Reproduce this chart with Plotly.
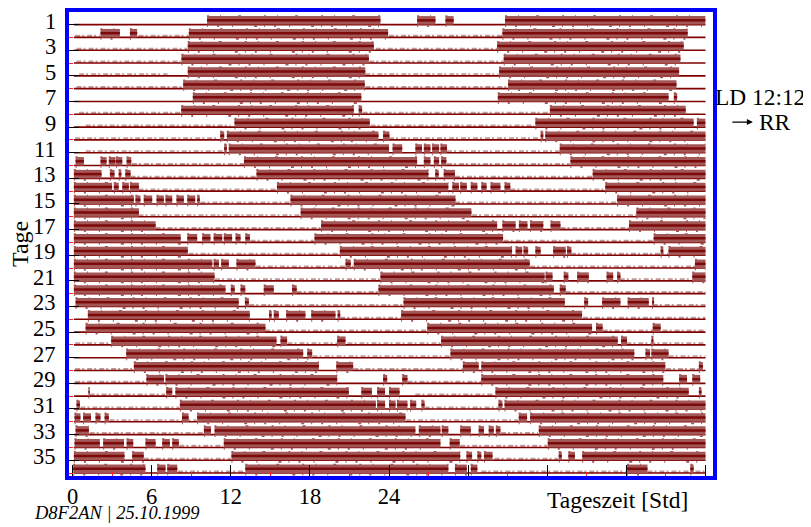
import plotly.graph_objects as go

days = list(range(1, 37))
bouts_by_day = [
 [(10.2,23.35),(26.13,27.52),(28.28,28.9),(32.8,47.99)],
 [(2.12,3.59),(4.35,4.9),(8.82,23.93),(32.6,46.65)],
 [(8.74,22.85),(32.2,46.35)],
 [(8.26,22.47),(32.7,46.1)],
 [(8.74,22.2),(32.35,46.0)],
 [(8.39,22.16),(33.03,45.8)],
 [(9.12,21.9),(32.25,45.2),(45.6,45.85)],
 [(8.24,21.33),(21.7,21.96),(36.2,46.5)],
 [(12.28,22.54),(35.1,47.1),(47.35,47.99)],
 [(11.2,11.5),(11.7,23.2),(23.55,24.03),(35.5,35.7),(35.85,48)],
 [(11.5,11.7),(11.85,24),(24.27,25.0),(26,26.5),(26.64,27.14),(27.27,27.8),(27.9,28.4),(36.95,48)],
 [(0.23,0.86),(2.12,2.58),(2.75,3.26),(3.3,3.77),(4.1,4.45),(13.0,26.13),(26.64,27.14),(27.4,27.8),(27.95,28.35),(37.76,48)],
 [(0.1,2.2),(2.83,3.18),(3.5,3.7),(4.0,4.4),(13.95,26.99),(27.5,27.77),(28.15,29.0),(39.45,48)],
 [(0.1,3.0),(3.13,3.5),(3.77,4.27),(4.35,5.03),(15.5,28.5),(28.8,29.3),(29.4,29.9),(30.2,30.7),(31,31.4),(31.7,32.45),(32.76,33.2),(40.4,48)],
 [(0.1,4.65),(4.77,5.15),(5.4,6.04),(6.37,6.92),(7.05,7.56),(7.88,8.44),(8.7,9.3),(9.45,9.65),(16.53,29.04),(41.3,48)],
 [(0.1,5.03),(17.3,30.25),(42.76,48)],
 [(0.1,6.3),(18.85,32.2),(32.6,33.6),(33.85,34.5),(34.7,35.7),(36.25,37),(42.2,48)],
 [(0.1,8.2),(8.7,9.45),(9.83,10.46),(10.7,11.35),(11.47,12.1),(12.36,12.74),(13.1,13.45),(18.35,32.65),(44.07,48)],
 [(0.1,8.74),(20.27,33.33),(33.6,34.1),(34.2,34.55),(35.1,35.5),(36.45,37.4),(37.5,37.83),(44.6,44.8),(45.2,48)],
 [(0.1,10.6),(10.7,11.1),(11.27,11.85),(12.43,13.87),(20.7,21.1),(21.33,34.67),(47.2,48)],
 [(0.1,10.77),(23.35,35.8),(35.87,36.4),(37.25,37.6),(38.27,39.15),(40.5,41),(41.3,41.55),(47,48)],
 [(0.1,11.6),(12,12.3),(12.74,13.1),(14.5,15.26),(16.65,17),(23.2,36.5),(36.95,37.4)],
 [(0.23,12.6),(13.07,13.37),(25.1,37.33),(38.8,39.1),(40.16,41.55),(42.1,43.7),(43.95,44.1)],
 [(1.16,13.44),(14.9,15.1),(15.26,15.64),(16.2,17.66),(18.1,19.94),(20.1,20.3),(24.92,38.64)],
 [(0.99,14.63),(26.9,39.4),(39.7,40.2),(44.0,44.6)],
 [(2.93,15.47),(15.77,16.27),(20.07,20.7),(27.95,41.35),(41.6,42.05),(43.9,44.05)],
 [(4.07,17.49),(17.8,18.17),(28.66,42.6),(43.45,43.8),(43.9,45.2)],
 [(4.65,18.68),(20,21.28),(29.6,30.8),(31,44.95),(47.5,47.8)],
 [(5.6,6.93),(7.05,20.07),(23.55,23.86),(25,25.4),(31,44.8),(46,46.6),(47,47.6)],
 [(1.2,1.3),(7.1,7.56),(7.8,20.95),(21.9,22.7),(23.1,23.7),(24,24.8),(32.07,46.73),(47.5,47.7)],
 [(0.3,0.56),(8.14,23),(23.1,23.7),(24,24.5),(24.6,25.4),(25.6,26.06),(26.46,26.7),(32.3,32.6),(32.76,48)],
 [(0.15,0.6),(0.8,1.4),(1.74,2.12),(2.43,2.75),(8.3,8.8),(9.45,25.25),(33.84,34.47),(34.7,48)],
 [(0.23,1.24),(9.96,10.5),(10.77,26),(26.26,27.9),(28,28.5),(29.4,30.2),(30.8,31.2),(31.56,31.95),(32.1,32.45),(35.36,48)],
 [(0.15,2.07),(2.32,3.9),(4.1,4.6),(5.53,6.3),(6.8,7.38),(7.56,8.06),(11.47,27.9),(28.6,29.36),(36.04,48)],
 [(0.1,3.94),(4.52,5.4),(12.05,29.4),(29.87,30.3),(30.7,31),(31.2,31.85),(36.87,37.1),(37.6,38.1),(38.65,48)],
 [(0.05,5.53),(6.42,7.05),(7.18,7.94),(13.1,28.5),(29,29.9),(30.2,30.7),(42.05,43.6),(46.85,47.1)],
]
low_activity_by_day = [
 [],
 [(0.2,2.1),(5,8.8),(24,32.6)],
 [(0.3,8.7),(23,32.2)],
 [(0.3,8.2),(22.5,32.7)],
 [(0.5,7.2),(22.2,32.3)],
 [(0.3,8.4),(22.2,33)],
 [],
 [(0.5,8.2),(22,36.2)],
 [(1,12),(22.6,35)],
 [(0.2,11),(24,35.4)],
 [(1,11.5),(28.4,37)],
 [(4.5,13),(28.4,37.7)],
 [(4.4,13.9),(29,39.4)],
 [(5,15.5),(33.2,40.4)],
 [(9.7,16.5),(29,41.3)],
 [(5,17.3),(30.3,42.8)],
 [(6.3,18.8),(37,42.2)],
 [(13.5,18.3),(32.7,44)],
 [(8.8,20.2),(37.8,45.2)],
 [(13.9,21.3),(34.7,47.2)],
 [(10.8,23.3),(41.5,47)],
 [(17,23.2),(37.4,48)],
 [(13.4,25),(44,48)],
 [(20.3,24.9),(38.7,48)],
 [(14.6,26.9),(40.2,48)],
 [(0.2,2.9),(16.3,27.9),(42,48)],
 [(18.2,28.6),(45.2,48)],
 [(0.2,4.6),(21.3,29.6),(45,47.5)],
 [(0.2,5.6),(25.4,31)],
 [(1.3,7),(26,32)],
 [(0.6,8.1),(26.7,32.3)],
 [(2.8,9.4),(25.3,33.8)],
 [(1.3,9.9),(32.5,35.3)],
 [(8.1,11.4),(29.4,36)],
 [(5.4,12),(32,36.8)],
 [(8,13),(31,42),(43.6,48)],
]
major_day_ticks = list(range(1, 36, 2))
minor_day_ticks = list(range(2, 37, 2))
hour_ticks = [0, 6, 12, 18, 24, 30, 36, 42, 48]
hour_labels = ["0", "6", "12", "18", "24", "", "", "", ""]
minor_hour_ticks = [3, 9, 15, 21, 27, 33, 39, 45]

def spans(per_day, rise):
    xs, ys = [], []
    for d, items in zip(days, per_day):
        for a, b in items:
            xs += [a, b, None]
            ys += [d - rise, d - rise, None]
    return xs, ys

BAR_RISE = 0.33
bx, by = spans(bouts_by_day, BAR_RISE)
tx, ty = spans(bouts_by_day, BAR_RISE + 0.33)
ux, uy = spans(bouts_by_day, -0.12)
lx, ly = spans(low_activity_by_day, 0.1)
base_x, base_y = [], []
for d in days:
    base_x += [0.1, 48, None]
    base_y += [d, d, None]

BAND = "#a35656"
fig = go.Figure()
def add(x, y, color, width, dash="solid"):
    fig.add_trace(go.Scatter(x=x, y=y, mode="lines", line=dict(color=color, width=width, dash=dash), hoverinfo="skip"))
add(lx, ly, "#c49a9a", 2.6, "5px,2px,2px,3px")
add(base_x, base_y, "#800000", 1.6)
add(tx, ty, BAND, 1.6, "2px,11px,1px,17px,3px,23px")
add(ux, uy, BAND, 1.8, "1px,9px,2px,13px,1px,21px,3px,7px")
add(bx, by, BAND, 8.5)
add(bx, by, "#7d0a0a", 2.5)

FONT = "Liberation Serif"
TICK_SIZE = 22.5
fig.update_layout(
    width=803, height=515, autosize=False, showlegend=False,
    margin=dict(l=60.5, r=98.3, t=0, b=47),
    paper_bgcolor="white", plot_bgcolor="white",
    font=dict(family=FONT, color="black", size=TICK_SIZE),
    xaxis=dict(range=[-0.27, 48.57], showgrid=False, zeroline=False, showline=True, mirror=True,
               linecolor="#0000ff", linewidth=4, tickmode="array", tickvals=hour_ticks, ticktext=hour_labels,
               ticks="inside", ticklen=11, tickcolor="black", tickwidth=1.2,
               minor=dict(tickmode="array", tickvals=minor_hour_ticks, ticks="inside", ticklen=4, tickcolor="#ff2020", tickwidth=1),
               tickfont=dict(family=FONT, size=TICK_SIZE), tickangle=0, ticklabelstandoff=-3),
    yaxis=dict(range=[36.23, 0.017], showgrid=False, zeroline=False, showline=True, mirror=True,
               linecolor="#0000ff", linewidth=4, tickmode="array", tickvals=major_day_ticks,
               ticktext=[""] * len(major_day_ticks),
               ticks="inside", ticklen=10, tickcolor="black", tickwidth=1.2,
               minor=dict(tickmode="array", tickvals=minor_day_ticks, ticks="inside", ticklen=4, tickcolor="#ff2020", tickwidth=1)),
)
def note(text, x, y, size=23, **kw):
    fig.add_annotation(text=text, xref="paper", yref="paper", x=(x-68.5)/644.2, y=1-(y-10)/468,
                       xanchor="center", yanchor="middle",
                       showarrow=False, font=dict(family=FONT, size=size, color="black"), **kw)
for v in major_day_ticks:
    fig.add_annotation(text=str(v), xref="paper", yref="y", x=(57.5-68.5)/644.2, y=v, xanchor="right",
                       yanchor="middle", yshift=3.5, showarrow=False, font=dict(family=FONT, size=TICK_SIZE, color="black"))
note("Tage", 19.5, 244, size=24, textangle=-90)
note("Tageszeit [Std]", 617, 502, size=23.5)
note("<i>D8F2AN | 25.10.1999</i>", 116, 515, size=18.5)
note("LD 12:12", 760, 96, size=23.4)
note("RR", 775, 121, size=23.4)
fig.add_annotation(x=(752.6-68.5)/644.2, y=1-(121-10)/468, ax=-22, ay=0,
                   xref="paper", yref="paper", text="",
                   showarrow=True, arrowhead=2, arrowsize=1, arrowwidth=1.2, arrowcolor="black")
fig.write_html("out.html")
